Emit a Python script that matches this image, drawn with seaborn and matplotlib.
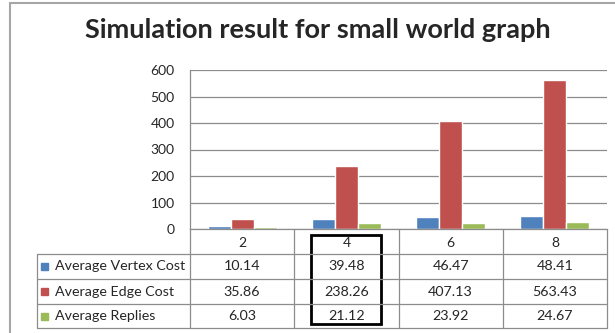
"""
plot.py

Recreate the "Simulation result for small world graph" Excel-style chart:
grouped bars on top and a data table with legend keys underneath.
"""

import matplotlib
matplotlib.use("Agg")
import matplotlib.pyplot as plt
from matplotlib.lines import Line2D
from matplotlib.patches import Rectangle
import pandas as pd
import seaborn as sns


NODES = ["2", "4", "6", "8"]
SERIES = ["Average Vertex Cost", "Average Edge Cost", "Average Replies"]
VERTEX_COST = [10.14, 39.48, 46.47, 48.41]
EDGE_COST = [35.86, 238.26, 407.13, 563.43]
REPLIES = [6.03, 21.12, 23.92, 24.67]
Y_TICKS = [0, 100, 200, 300, 400, 500, 600]
HIGHLIGHT = "4"

COLORS = ["#4F81BD", "#C0504D", "#9BBB59"]
GRID = "#8C8C8C"

W, H = 615, 333


def fx(px):
    return px / W


def fy(py):
    return 1 - py / H


sns.set_style("white")
plt.rcParams["font.family"] = ["Lato", "DejaVu Sans"]

values = [VERTEX_COST, EDGE_COST, REPLIES]
df = pd.DataFrame(
    [(node, name, vals[i]) for name, vals in zip(SERIES, values) for i, node in enumerate(NODES)],
    columns=["Nodes", "series", "value"],
)

fig = plt.figure(figsize=(W / 100, H / 100), dpi=100)

# plot area in pixel layout of the reference
left, right, top, bottom = 190, 607, 70, 229
ax = fig.add_axes([fx(left), fy(bottom), fx(right) - fx(left), fy(top) - fy(bottom)])

sns.barplot(
    data=df, x="Nodes", y="value", hue="series", order=NODES, hue_order=SERIES,
    palette=COLORS, saturation=1, width=0.66, legend=False, ax=ax,
)
ax.set_xlim(-0.5, len(NODES) - 0.5)
ax.set_ylim(0, 600)
ax.set_yticks(Y_TICKS)
ax.set_yticklabels([str(t) for t in Y_TICKS], fontsize=10)
ax.tick_params(axis="y", length=0, pad=11)
ax.tick_params(axis="x", length=0, pad=6, labelsize=10)
ax.set_xlabel("")
ax.set_ylabel("")
ax.yaxis.grid(True, color=GRID, linewidth=0.9)
ax.set_axisbelow(True)
for side in ["top", "right"]:
    ax.spines[side].set_visible(False)
for side in ["left", "bottom"]:
    ax.spines[side].set_color(GRID)
    ax.spines[side].set_linewidth(0.9)

fig.text(fx(318), fy(30), "Simulation result for small world graph",
         ha="center", va="center", fontsize=19.5, fontweight="bold")

# outer chart border
fig.add_artist(Line2D([fx(10), fx(10)], [fy(3), 0], transform=fig.transFigure,
                      color="#A6A6A6", linewidth=1.5))
fig.add_artist(Line2D([fx(10), 1], [fy(3), fy(3)], transform=fig.transFigure,
                      color="#A6A6A6", linewidth=1.5))

# data table
label_left = 37
col_w = (right - left) / len(NODES)
row_tops = [229, 254, 279, 304, 328]


def hline(x0, x1, y):
    fig.add_artist(Line2D([fx(x0), fx(x1)], [fy(y), fy(y)], transform=fig.transFigure,
                          color=GRID, linewidth=0.9))


def vline(x, y0, y1):
    fig.add_artist(Line2D([fx(x), fx(x)], [fy(y0), fy(y1)], transform=fig.transFigure,
                          color=GRID, linewidth=0.9))


for y in row_tops[1:]:
    hline(label_left, right, y)
vline(label_left, row_tops[1], row_tops[-1])
for i in range(len(NODES) + 1):
    vline(left + i * col_w, row_tops[0], row_tops[-1])

for r, (name, vals, color) in enumerate(zip(SERIES, values, COLORS)):
    yc = (row_tops[r + 1] + row_tops[r + 2]) / 2
    fig.add_artist(Rectangle((fx(41), fy(yc + 3.5)), fx(7), 7 / H,
                             transform=fig.transFigure, color=color))
    fig.text(fx(55), fy(yc), name, ha="left", va="center", fontsize=10.3)
    for c, v in enumerate(vals):
        fig.text(fx(left + (c + 0.5) * col_w), fy(yc), f"{v:.2f}",
                 ha="center", va="center", fontsize=10.3)

# black box drawn around the highlighted column
hi = NODES.index(HIGHLIGHT)
cx = left + (hi + 0.5) * col_w
fig.add_artist(Rectangle((fx(cx - 35), fy(324)), fx(70), 89 / H,
                         transform=fig.transFigure, fill=False,
                         edgecolor="black", linewidth=2))

fig.savefig("out.png", dpi=100)
